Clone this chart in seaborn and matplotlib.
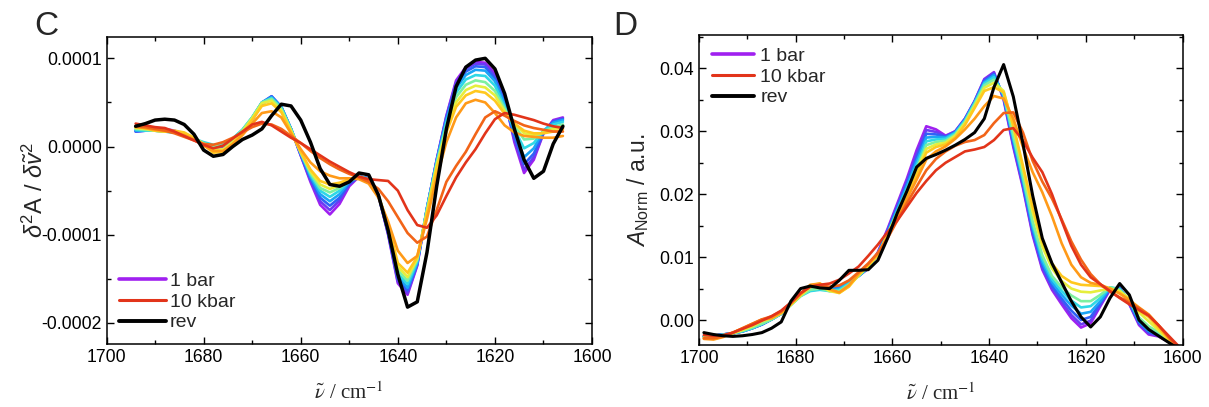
import numpy as np
import pandas as pd
import seaborn as sns
import matplotlib
matplotlib.use('Agg')
import matplotlib.pyplot as plt
from matplotlib.lines import Line2D
from matplotlib.ticker import MultipleLocator, FixedLocator, FuncFormatter

# wavenumber grids (cm^-1)
wn_c = np.arange(1694, 1605, -2)   # panel C, 1694 ... 1606
wn_d = np.arange(1699, 1600, -2)   # panel D, 1699 ... 1601

# panel C: second derivative spectra, in units of 1e-5
c_purple = [1.8, 1.9, 2.0, 2.0, 1.8, 1.4, 0.9, 0.3, -0.2, -0.1, 0.6, 1.6, 3.0, 4.8, 5.5, 4.4, 2.0, -1.0, -4.0, -6.6, -7.7, -6.5, -4.5, -3.4, -3.6, -5.5, -10.0, -15.5, -16.8, -13.5, -7.0, -1.5, 3.5, 7.5, 9.0, 9.6, 9.5, 8.3, 5.5, 0.5, -3.0, -1.5, 1.5, 3.0, 3.3]
c_violet = [1.7, 1.8, 1.9, 1.9, 1.7, 1.3, 0.9, 0.3, -0.1, 0.0, 0.7, 1.7, 3.1, 4.9, 5.7, 4.5, 2.0, -1.0, -3.8, -6.2, -7.2, -6.1, -4.3, -3.4, -3.6, -5.5, -9.9, -15.3, -16.6, -13.4, -7.0, -1.5, 3.4, 7.3, 8.8, 9.4, 9.3, 8.0, 5.3, 0.8, -2.6, -1.2, 1.5, 2.9, 3.2]
c_blue = [1.7, 1.8, 1.9, 1.8, 1.6, 1.3, 0.9, 0.3, 0.0, 0.1, 0.8, 1.8, 3.2, 5.0, 5.7, 4.5, 2.0, -0.9, -3.6, -5.8, -6.7, -5.8, -4.2, -3.4, -3.6, -5.5, -9.8, -15.0, -16.3, -13.3, -7.0, -1.6, 3.2, 7.0, 8.5, 9.1, 9.0, 7.7, 5.0, 1.2, -2.0, -0.8, 1.6, 2.8, 3.1]
c_sky = [1.8, 1.8, 1.8, 1.7, 1.6, 1.3, 0.9, 0.4, 0.1, 0.2, 0.9, 1.9, 3.3, 5.0, 5.6, 4.5, 2.0, -0.8, -3.4, -5.4, -6.2, -5.4, -4.0, -3.4, -3.6, -5.5, -9.6, -14.7, -16.0, -13.2, -7.0, -1.7, 3.0, 6.6, 8.1, 8.7, 8.6, 7.4, 4.8, 1.6, -1.2, -0.2, 1.8, 2.7, 3.0]
c_cyan = [1.9, 1.8, 1.8, 1.7, 1.6, 1.3, 0.9, 0.5, 0.2, 0.3, 0.9, 1.9, 3.3, 5.0, 5.5, 4.4, 2.0, -0.7, -3.2, -5.0, -5.7, -5.0, -3.9, -3.4, -3.7, -5.5, -9.4, -14.4, -15.6, -13.0, -7.0, -1.8, 2.7, 6.1, 7.6, 8.1, 8.0, 6.9, 4.5, 2.0, -0.2, 0.4, 1.8, 2.5, 2.8]
c_lgreen = [2.0, 1.9, 1.8, 1.7, 1.6, 1.3, 0.9, 0.4, 0.0, 0.1, 0.8, 1.9, 3.3, 5.0, 5.4, 4.3, 1.9, -0.7, -3.0, -4.7, -5.2, -4.7, -3.8, -3.4, -3.7, -5.5, -9.2, -14.0, -15.2, -12.8, -7.2, -2.0, 2.4, 5.6, 7.0, 7.5, 7.3, 6.3, 4.3, 2.4, 0.8, 0.9, 1.7, 2.2, 2.5]
c_yellow = [2.1, 2.0, 1.8, 1.7, 1.7, 1.5, 1.0, 0.3, -0.4, -0.3, 0.5, 1.7, 3.2, 4.9, 5.2, 4.1, 1.8, -0.6, -2.8, -4.3, -4.8, -4.4, -3.8, -3.5, -3.8, -5.5, -9.0, -13.6, -14.8, -12.7, -7.4, -2.2, 2.0, 5.0, 6.4, 6.9, 6.7, 5.8, 4.0, 2.6, 1.5, 1.3, 1.6, 2.0, 2.2]
c_gold = [2.3, 2.1, 1.8, 1.7, 1.8, 1.6, 1.0, 0.2, -0.7, -0.6, 0.3, 1.5, 3.0, 4.6, 4.9, 3.9, 1.6, -0.6, -2.6, -3.9, -4.3, -4.1, -3.7, -3.5, -3.9, -5.6, -8.8, -13.2, -14.3, -12.5, -7.6, -2.5, 1.6, 4.5, 5.8, 6.3, 6.1, 5.2, 3.7, 2.6, 1.8, 1.5, 1.5, 1.7, 1.9]
c_orange = [2.2, 2.1, 1.9, 1.8, 1.6, 1.3, 0.8, 0.1, -0.5, -0.5, 0.3, 1.3, 2.6, 3.8, 4.0, 3.3, 1.5, -0.3, -1.8, -2.8, -3.3, -3.6, -3.6, -3.7, -4.2, -5.8, -8.5, -11.8, -13.2, -12.4, -8.2, -3.5, 0.5, 3.3, 4.9, 5.3, 5.0, 3.8, 2.4, 1.6, 1.2, 1.1, 1.0, 1.0, 1.2]
c_orangered = [2.3, 2.2, 2.0, 1.8, 1.5, 1.1, 0.7, 0.3, 0.2, 0.5, 1.0, 1.6, 2.2, 2.6, 2.5, 2.0, 1.2, 0.4, -0.5, -1.3, -2.0, -2.6, -3.1, -3.5, -4.0, -4.8, -6.2, -8.0, -9.8, -10.9, -10.2, -7.2, -4.0, -2.2, -0.6, 1.4, 3.3, 4.0, 3.5, 2.9, 2.4, 2.1, 1.9, 1.7, 1.7]
c_red = [2.6, 2.4, 2.2, 2.1, 1.7, 1.2, 0.7, 0.2, -0.2, 0.1, 0.9, 1.7, 2.5, 2.8, 2.4, 1.7, 1.0, 0.4, -0.3, -1.0, -1.7, -2.3, -2.9, -3.4, -3.7, -3.8, -3.9, -5.0, -7.2, -8.9, -9.2, -7.8, -5.6, -3.5, -1.8, -0.3, 1.5, 3.1, 3.8, 3.6, 3.3, 3.0, 2.6, 2.3, 2.1]
c_rev = [2.3, 2.6, 3.0, 3.1, 3.0, 2.5, 1.4, -0.4, -1.1, -0.9, 0.0, 0.8, 1.3, 2.0, 3.5, 4.8, 4.6, 3.0, 0.5, -2.5, -4.3, -4.5, -4.0, -3.0, -3.2, -5.5, -9.5, -14.5, -18.2, -17.6, -12.0, -4.5, 2.0, 6.8, 9.0, 9.8, 10.0, 8.8, 6.0, 2.0, -1.5, -3.6, -2.8, 0.3, 2.3]

# panel D: normalised absorbance, in units of 1e-3
d_purple = [-2.6, -2.5, -2.3, -2.1, -1.8, -1.3, -0.7, 0.1, 1.0, 2.6, 4.0, 4.8, 5.2, 5.1, 5.4, 6.2, 7.0, 8.2, 10.8, 14.5, 18.5, 22.5, 27.0, 30.8, 30.3, 29.3, 30.0, 32.0, 34.8, 38.3, 39.4, 35.0, 27.5, 21.0, 13.5, 8.0, 4.8, 2.5, 0.3, -1.2, -0.5, 2.2, 4.8, 5.2, 2.5, -0.8, -2.3, -2.6, -3.4, -4.5]
d_violet = [-2.6, -2.5, -2.3, -2.1, -1.8, -1.3, -0.7, 0.1, 1.0, 2.6, 4.0, 4.8, 5.1, 5.0, 5.3, 6.1, 7.0, 8.2, 10.7, 14.3, 18.2, 22.1, 26.4, 30.2, 29.9, 29.2, 30.0, 32.0, 34.8, 38.2, 39.3, 35.2, 27.8, 21.3, 13.8, 8.3, 5.1, 2.9, 0.8, -0.7, -0.1, 2.4, 4.9, 5.1, 2.6, -0.6, -2.1, -2.5, -3.4, -4.5]
d_blue = [-2.6, -2.5, -2.3, -2.1, -1.8, -1.3, -0.7, 0.1, 1.0, 2.6, 4.0, 4.8, 5.0, 4.9, 5.2, 6.0, 7.0, 8.3, 10.6, 14.1, 17.9, 21.7, 25.8, 29.6, 29.5, 29.1, 29.9, 31.9, 34.7, 38.0, 39.1, 35.4, 28.2, 21.7, 14.2, 8.7, 5.5, 3.4, 1.5, 0.0, 0.5, 2.7, 5.0, 5.1, 2.8, -0.4, -1.9, -2.4, -3.4, -4.5]
d_sky = [-2.6, -2.5, -2.3, -2.1, -1.8, -1.3, -0.7, 0.1, 1.0, 2.5, 3.9, 4.7, 4.9, 4.8, 5.0, 5.9, 7.0, 8.3, 10.5, 13.9, 17.6, 21.3, 25.2, 29.0, 29.1, 29.0, 29.8, 31.8, 34.6, 37.8, 38.9, 35.6, 28.6, 22.1, 14.7, 9.2, 6.0, 4.0, 2.3, 1.0, 1.3, 3.0, 5.1, 5.0, 3.0, -0.2, -1.7, -2.3, -3.4, -4.5]
d_cyan = [-2.7, -2.6, -2.3, -2.1, -1.8, -1.3, -0.6, 0.1, 1.0, 2.4, 3.8, 4.6, 4.8, 4.6, 4.8, 5.8, 7.0, 8.4, 10.4, 13.7, 17.3, 20.9, 24.6, 28.4, 28.7, 28.8, 29.7, 31.7, 34.5, 37.6, 38.6, 35.8, 29.0, 22.5, 15.2, 9.7, 6.5, 4.6, 3.1, 2.0, 2.2, 3.5, 5.2, 4.9, 3.1, 0.1, -1.4, -2.1, -3.3, -4.5]
d_lgreen = [-2.7, -2.6, -2.4, -2.1, -1.7, -1.2, -0.6, 0.1, 1.0, 2.4, 3.8, 4.8, 5.0, 4.6, 4.6, 5.6, 7.0, 8.5, 10.3, 13.5, 17.0, 20.5, 24.0, 27.8, 28.3, 28.5, 29.5, 31.5, 34.3, 37.3, 38.2, 36.0, 29.4, 22.9, 15.7, 10.3, 7.0, 5.2, 3.9, 3.0, 3.0, 4.0, 5.2, 4.8, 3.2, 0.4, -1.0, -1.9, -3.2, -4.5]
d_yellow = [-2.8, -2.8, -2.5, -2.1, -1.6, -1.0, -0.2, 0.3, 1.1, 2.4, 3.9, 5.2, 5.5, 4.6, 4.3, 5.4, 7.1, 8.6, 10.4, 13.6, 17.0, 20.4, 23.8, 27.2, 27.9, 28.2, 29.3, 31.3, 34.0, 36.9, 37.7, 36.4, 30.6, 24.0, 17.2, 11.7, 8.2, 6.2, 5.0, 4.5, 4.4, 4.7, 5.0, 4.6, 3.4, 1.2, -0.2, -1.6, -3.1, -4.5]
d_gold = [-2.9, -3.0, -2.6, -2.0, -1.4, -0.8, 0.0, 0.3, 1.1, 2.5, 4.0, 5.5, 5.8, 4.8, 4.3, 5.3, 7.2, 8.7, 10.3, 13.4, 16.6, 19.9, 23.0, 26.6, 27.5, 27.9, 29.0, 31.0, 33.7, 36.4, 37.0, 36.2, 31.0, 24.5, 18.0, 12.5, 9.0, 7.0, 6.0, 5.6, 5.5, 5.4, 5.0, 4.3, 3.2, 1.5, 0.5, -1.2, -2.9, -4.5]
d_orange = [-3.0, -3.1, -2.7, -2.0, -1.3, -0.6, 0.1, 0.3, 1.2, 2.6, 4.2, 5.6, 5.8, 4.9, 4.4, 5.5, 7.4, 8.9, 10.6, 13.2, 16.2, 19.3, 22.3, 25.5, 26.8, 27.6, 28.8, 30.3, 32.0, 34.0, 35.6, 35.2, 32.0, 27.5, 23.5, 20.3, 16.5, 12.2, 8.8, 6.8, 5.9, 5.6, 5.0, 4.2, 3.2, 2.0, 0.9, -0.8, -2.7, -4.5]
d_orangered = [-2.9, -2.9, -2.6, -2.0, -1.3, -0.6, 0.1, 0.6, 1.4, 2.7, 4.2, 5.3, 5.5, 5.3, 5.5, 6.3, 7.6, 9.0, 10.7, 13.0, 15.8, 18.6, 21.2, 23.8, 25.6, 26.8, 27.7, 28.3, 28.6, 29.4, 31.3, 32.9, 33.0, 29.8, 25.3, 22.0, 19.3, 16.0, 12.5, 9.6, 7.3, 5.7, 4.5, 3.6, 2.8, 1.9, 0.8, -0.8, -2.6, -4.3]
d_red = [-2.4, -2.5, -2.4, -2.0, -1.4, -0.8, -0.1, 0.6, 1.5, 2.8, 4.3, 5.3, 5.6, 5.8, 6.4, 7.4, 8.5, 10.2, 12.0, 14.0, 15.8, 18.0, 20.2, 22.1, 23.8, 25.0, 25.9, 26.8, 27.1, 27.5, 28.6, 30.2, 30.5, 28.5, 25.8, 23.5, 20.0, 15.8, 11.8, 8.8, 6.8, 5.7, 4.6, 3.5, 2.5, 1.6, 0.7, -0.8, -2.4, -4.0]
d_rev = [-2.0, -2.3, -2.5, -2.6, -2.5, -2.3, -2.0, -1.3, -0.3, 3.0, 5.0, 5.4, 5.1, 5.0, 6.3, 7.9, 7.9, 8.0, 9.5, 13.0, 17.0, 20.5, 24.3, 25.7, 26.3, 27.0, 27.8, 28.7, 29.8, 32.0, 37.0, 40.6, 35.5, 28.0, 19.8, 13.0, 9.0, 6.0, 3.0, 0.5, -1.1, 0.5, 3.5, 5.8, 4.0, 0.0, -1.5, -2.5, -3.5, -4.5]

curve_names = ['purple', 'violet', 'blue', 'sky', 'cyan', 'lgreen',
               'yellow', 'gold', 'orange', 'orangered', 'red']
curve_colors = ['#a020f0', '#6a3cf4', '#2f62f6', '#1aa4f6', '#2fd8e6', '#7ef0a0',
                '#e6ee3c', '#ffc81e', '#ff9a18', '#f26418', '#e2341a']
c_series = [c_purple, c_violet, c_blue, c_sky, c_cyan, c_lgreen,
            c_yellow, c_gold, c_orange, c_orangered, c_red]
d_series = [d_purple, d_violet, d_blue, d_sky, d_cyan, d_lgreen,
            d_yellow, d_gold, d_orange, d_orangered, d_red]
legend_labels = ['1 bar', '10 kbar', 'rev']

sns.set_style('ticks')
plt.rcParams['font.family'] = ['Liberation Sans', 'DejaVu Sans']
plt.rcParams['mathtext.fontset'] = 'custom'
plt.rcParams['mathtext.rm'] = 'Liberation Sans'
plt.rcParams['mathtext.it'] = 'Liberation Sans:italic'


def long_frame(wn, series, scale):
    rows = []
    for name, vals in zip(curve_names, series):
        rows.append(pd.DataFrame({'wn': wn, 'val': np.array(vals) * scale, 'curve': name}))
    return pd.concat(rows, ignore_index=True)


def style_axis(ax):
    ax.set_xlim(1700, 1600)
    ax.xaxis.set_major_locator(MultipleLocator(20))
    ax.xaxis.set_minor_locator(MultipleLocator(10))
    ax.tick_params(which='both', direction='in', top=True, right=True,
                   labelsize=12.7, colors='black', width=1.0)
    ax.tick_params(which='major', length=5)
    ax.tick_params(which='minor', length=3)
    for sp in ax.spines.values():
        sp.set_linewidth(1.1)
        sp.set_color('black')
    ax.set_xlabel(r'$\tilde{\nu}$ / cm$^{-1}$', fontsize=15,
                  fontfamily='Liberation Serif', math_fontfamily='stix')
    ax.xaxis.set_label_coords(0.5, -0.125)
    ax.set_facecolor('white')


fig = plt.figure(figsize=(12.09, 4.07), dpi=100)
ax_c = fig.add_axes([0.0881, 0.1548, 0.4016, 0.7550])
ax_d = fig.add_axes([0.5782, 0.1523, 0.3999, 0.7617])

palette = dict(zip(curve_names, curve_colors))
line_kw = dict(solid_joinstyle='round', solid_capstyle='round')

# panel C
df_c = long_frame(wn_c, c_series, 1e-5)
sns.lineplot(data=df_c, x='wn', y='val', hue='curve', hue_order=curve_names,
             palette=palette, estimator=None, sort=False, legend=False,
             lw=1.9, ax=ax_c, **line_kw)
sns.lineplot(x=wn_c, y=np.array(c_rev) * 1e-5, color='black', estimator=None,
             sort=False, lw=2.5, ax=ax_c, **line_kw)
style_axis(ax_c)
ax_c.set_ylim(-0.0002238, 0.0001245)
ax_c.yaxis.set_major_locator(FixedLocator([-0.0002, -0.0001, 0.0, 0.0001]))
ax_c.yaxis.set_minor_locator(FixedLocator([-0.00015, -0.00005, 0.00005]))
ax_c.yaxis.set_major_formatter(FuncFormatter(lambda v, p: f'{v:.4f}'.replace('-0.0000', '0.0000')))
ax_c.set_ylabel(r'$\delta^2$A / $\delta\tilde{v}^2$', fontsize=17)
ax_c.yaxis.set_label_coords(-0.121, 0.5)

# panel D
df_d = long_frame(wn_d, d_series, 1e-3)
sns.lineplot(data=df_d, x='wn', y='val', hue='curve', hue_order=curve_names,
             palette=palette, estimator=None, sort=False, legend=False,
             lw=1.9, ax=ax_d, **line_kw)
sns.lineplot(x=wn_d, y=np.array(d_rev) * 1e-3, color='black', estimator=None,
             sort=False, lw=2.2, ax=ax_d, **line_kw)
style_axis(ax_d)
ax_d.set_ylim(-0.00397, 0.0453)
ax_d.yaxis.set_major_locator(MultipleLocator(0.01))
ax_d.yaxis.set_minor_locator(MultipleLocator(0.005))
ax_d.yaxis.set_major_formatter(FuncFormatter(lambda v, p: f'{v:.2f}'.replace('-0.00', '0.00')))
ax_d.set_ylabel(r'$A_{\mathrm{Norm}}$ / a.u.', fontsize=16.5)
ax_d.yaxis.set_label_coords(-0.099, 0.5)

# legends
handles = [Line2D([], [], color=curve_colors[0], lw=2.6),
           Line2D([], [], color=curve_colors[-1], lw=2.2),
           Line2D([], [], color='black', lw=2.8)]
ax_c.legend(handles, legend_labels, loc='lower left', frameon=False, fontsize=14,
            handlelength=2.4, handletextpad=0.2, labelspacing=0.15,
            borderaxespad=0.25, bbox_to_anchor=(0.0, 0.0))
ax_d.legend(handles, legend_labels, loc='upper left', frameon=False, fontsize=14,
            handlelength=2.2, handletextpad=0.3, labelspacing=0.15,
            borderaxespad=0.25, bbox_to_anchor=(0.0, 1.0))

# panel letters
fig.text(0.028, 0.935, 'C', fontsize=24, va='center', ha='left')
fig.text(0.507, 0.935, 'D', fontsize=24, va='center', ha='left')

fig.savefig('out.png', dpi=100, facecolor='white')
